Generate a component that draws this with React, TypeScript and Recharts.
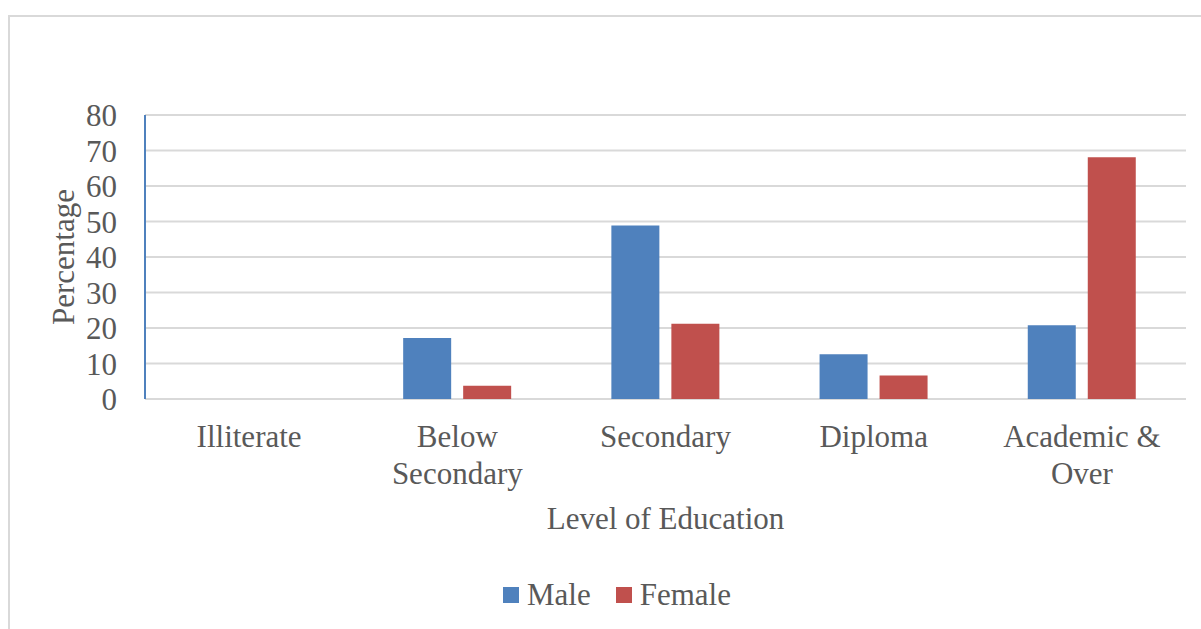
import { BarChart, Bar, XAxis, YAxis, CartesianGrid, Legend } from "recharts";

const categories = ["Illiterate", "Below Secondary", "Secondary", "Diploma", "Academic & Over"];
const tickLines = [["Illiterate"], ["Below", "Secondary"], ["Secondary"], ["Diploma"], ["Academic &", "Over"]];
const male = [0, 17.2, 48.9, 12.6, 20.8];
const female = [0, 3.7, 21.2, 6.6, 68.1];
const yTicks = [0, 10, 20, 30, 40, 50, 60, 70, 80];

const FONT = "'Liberation Serif', 'Times New Roman', serif";
const TEXT = "#595959";
const BLUE = "#4f81bd";
const RED = "#c0504d";
const GRID = "#d9d9d9";

const data = categories.map((name, i) => ({ name, Male: male[i], Female: female[i] }));

function XTick(props: any) {
  const { x, y, payload } = props;
  const lines = tickLines[payload.index] || [payload.value];
  return (
    <g transform={`translate(${x},${y})`}>
      <text textAnchor="middle" fill={TEXT} fontSize={31} fontFamily={FONT}>
        {lines.map((l, i) => (
          <tspan key={i} x={0} y={48 + i * 37}>
            {l}
          </tspan>
        ))}
      </text>
    </g>
  );
}

function LegendContent() {
  const items = [
    { label: "Male", color: BLUE },
    { label: "Female", color: RED },
  ];
  return (
    <div style={{ display: "flex", justifyContent: "center", alignItems: "center", height: 36 }}>
      {items.map((it) => (
        <div key={it.label} style={{ display: "flex", alignItems: "center", marginRight: it.label === "Male" ? 25 : 0 }}>
          <span style={{ width: 16, height: 16, background: it.color, display: "inline-block", marginRight: 8 }} />
          <span style={{ fontFamily: FONT, fontSize: 31, color: TEXT }}>{it.label}</span>
        </div>
      ))}
    </div>
  );
}

export default function App() {
  return (
    <div style={{ position: "fixed", left: 0, top: 0, width: 1201, height: 629, overflow: "hidden", background: "#fff" }}>
      <div
        style={{
          position: "absolute",
          left: 8,
          top: 15,
          width: 1300,
          height: 700,
          border: `2px solid ${GRID}`,
        }}
      />
      <div style={{ position: "absolute", left: 0, top: 0 }}>
        <BarChart
          width={1201}
          height={629}
          data={data}
          margin={{ top: 115, right: 15, left: 0, bottom: 10 }}
          barCategoryGap="24%"
          barGap={12}
        >
          <CartesianGrid vertical={false} stroke={GRID} strokeWidth={2} />
          <XAxis
            dataKey="name"
            axisLine={false}
            tickLine={false}
            tickSize={0}
            tickMargin={0}
            height={184}
            interval={0}
            tick={<XTick />}
            label={{
              content: (p: any) => {
                const vb = p.viewBox;
                return (
                  <text
                    x={vb.x + vb.width / 2}
                    y={vb.y + 130}
                    textAnchor="middle"
                    fill={TEXT}
                    fontSize={31}
                    fontFamily={FONT}
                  >
                    Level of Education
                  </text>
                );
              },
            }}
          />
          <YAxis
            width={145}
            domain={[0, 80]}
            ticks={yTicks}
            interval={0}
            axisLine={{ stroke: BLUE, strokeWidth: 2 }}
            tickLine={false}
            tickSize={0}
            tickMargin={28}
            tick={{ fill: TEXT, fontSize: 31, fontFamily: FONT }}
            label={{
              value: "Percentage",
              angle: -90,
              position: "center",
              dx: -10,
              fill: TEXT,
              fontSize: 31,
              fontFamily: FONT,
            }}
          />
          <Legend
            verticalAlign="bottom"
            content={<LegendContent />}
            wrapperStyle={{ left: 0, width: 1234, top: 577, height: 36 }}
          />
          <Bar dataKey="Male" fill={BLUE} isAnimationActive={false} />
          <Bar dataKey="Female" fill={RED} isAnimationActive={false} />
        </BarChart>
      </div>
    </div>
  );
}
